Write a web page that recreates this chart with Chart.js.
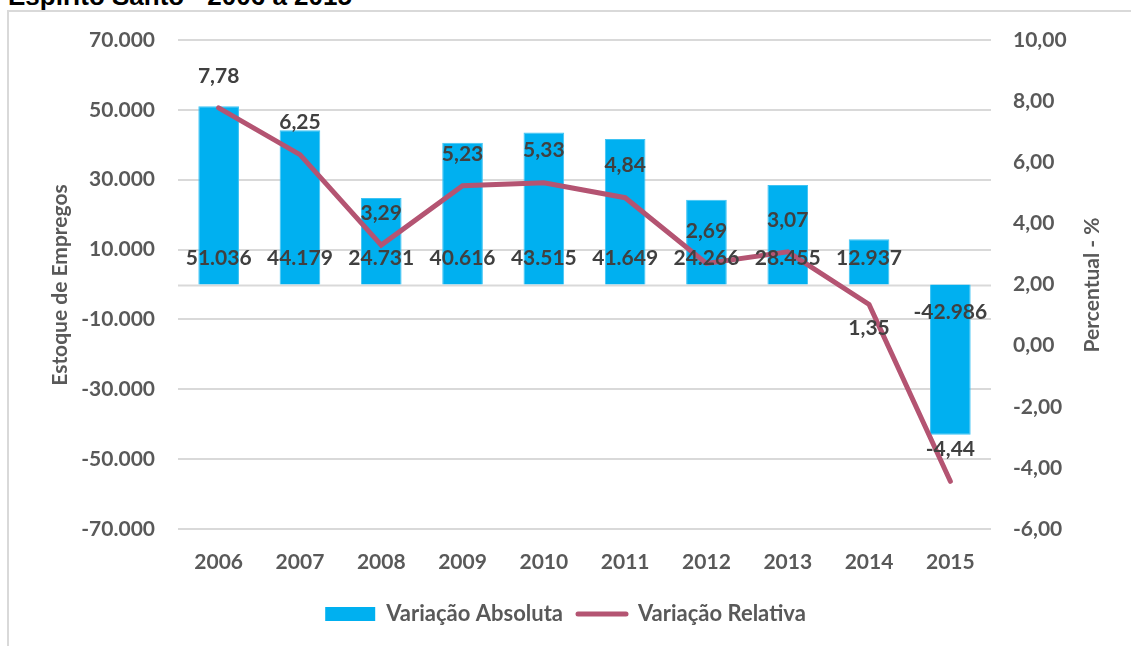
<!DOCTYPE html>
<html>
<head>
<meta charset="utf-8">
<script src="https://cdn.jsdelivr.net/npm/chart.js@4/dist/chart.umd.min.js"></script>
<style>
  html, body { margin: 0; padding: 0; background: #fff; overflow: hidden; }
  #titulo {
    position: absolute; left: 8px; top: -17px;
    font: bold 26px "Liberation Sans", Arial, sans-serif; line-height: 26px;
    color: #000; white-space: nowrap;
  }
  #moldura {
    position: absolute; left: 7px; top: 10px; width: 1200px; height: 700px;
    border: 2px solid #d9d9d9; box-sizing: border-box;
  }
  #caixa { position: absolute; left: 0; top: 0; width: 1131px; height: 646px; }
</style>
</head>
<body>
<div id="titulo">Espírito Santo - 2006 a 2015</div>
<div id="moldura"></div>
<div id="caixa"><canvas id="grafico" width="1131" height="646"></canvas></div>
<script>
const anos = ['2006', '2007', '2008', '2009', '2010', '2011', '2012', '2013', '2014', '2015'];
const variacaoAbsoluta = [51036, 44179, 24731, 40616, 43515, 41649, 24266, 28455, 12937, -42986];
const variacaoRelativa = [7.78, 6.25, 3.29, 5.23, 5.33, 4.84, 2.69, 3.07, 1.35, -4.44];
// posição do rótulo da linha: acima (-1) ou abaixo (1)
const posRotuloLinha = [-1, -1, -1, -1, -1, -1, -1, -1, 1, -1];

const FONTE = 'Lato, "Open Sans", sans-serif';
const COR_LINHA = '#b45472';
const COR_BARRA = '#00b0f0';

function milhar(v) {
  const s = Math.abs(Math.round(v)).toString().replace(/\B(?=(\d{3})+(?!\d))/g, '.');
  return (v < 0 ? '-' : '') + s;
}
function decimal(v) {
  return v.toFixed(2).replace('.', ',');
}

// símbolo da legenda para a linha (traço largo)
const tracoLegenda = document.createElement('canvas');
tracoLegenda.width = 54;
tracoLegenda.height = 8;
(() => {
  const c = tracoLegenda.getContext('2d');
  c.strokeStyle = COR_LINHA;
  c.lineWidth = 5;
  c.lineCap = 'round';
  c.beginPath();
  c.moveTo(3, 4);
  c.lineTo(51, 4);
  c.stroke();
})();

const rotulos = {
  id: 'rotulos',
  beforeDatasetsDraw(chart) {
    // linha do eixo de categorias no zero
    const { ctx, chartArea, scales } = chart;
    const y0 = Math.round(scales.y.getPixelForValue(0)) + 0.5;
    ctx.save();
    ctx.strokeStyle = '#d9d9d9';
    ctx.lineWidth = 2;
    ctx.beginPath();
    ctx.moveTo(chartArea.left, y0);
    ctx.lineTo(chartArea.right, y0);
    ctx.stroke();
    ctx.restore();
  },
  afterDatasetsDraw(chart) {
    const { ctx, scales } = chart;
    ctx.save();
    ctx.font = 'bold 21px ' + FONTE;
    ctx.fillStyle = '#404040';
    ctx.textAlign = 'center';
    ctx.textBaseline = 'middle';

    const y0 = scales.y.getPixelForValue(0);
    chart.getDatasetMeta(1).data.forEach((bar, i) => {
      const v = variacaoAbsoluta[i];
      ctx.fillText(milhar(v), bar.x, v >= 0 ? y0 - 26 : y0 + 28);
    });

    chart.getDatasetMeta(0).data.forEach((pt, i) => {
      const off = posRotuloLinha[i] < 0 ? -32 : 24;
      ctx.fillText(decimal(variacaoRelativa[i]), pt.x, pt.y + off);
    });

    // títulos dos eixos
    ctx.fillStyle = '#595959';
    ctx.translate(60, 285);
    ctx.rotate(-Math.PI / 2);
    ctx.fillText('Estoque de Empregos', 0, 0);
    ctx.restore();

    ctx.save();
    ctx.fillStyle = '#595959';
    ctx.font = 'bold 21px ' + FONTE;
    ctx.textAlign = 'center';
    ctx.textBaseline = 'middle';
    ctx.translate(1092, 285);
    ctx.rotate(-Math.PI / 2);
    ctx.fillText('Percentual - %', 0, 0);
    ctx.restore();
  }
};

const ctx = document.getElementById('grafico').getContext('2d');
const chart = new Chart(ctx, {
  type: 'bar',
  data: {
    labels: anos,
    datasets: [
      {
        type: 'line',
        label: 'Variação Relativa',
        data: variacaoRelativa,
        yAxisID: 'y1',
        borderColor: COR_LINHA,
        backgroundColor: COR_LINHA,
        borderWidth: 5,
        pointRadius: 0,
        tension: 0,
        borderCapStyle: 'round',
        order: 1
      },
      {
        type: 'bar',
        label: 'Variação Absoluta',
        data: variacaoAbsoluta,
        yAxisID: 'y',
        backgroundColor: COR_BARRA,
        borderColor: '#3ec3f3',
        borderWidth: 1,
        barPercentage: 0.5,
        categoryPercentage: 1,
        order: 2
      }
    ]
  },
  options: {
    responsive: false,
    animation: false,
    layout: { padding: { top: 40, bottom: 11, left: 0, right: 0 } },
    scales: {
      x: {
        grid: { display: false, drawTicks: false },
        border: { display: false },
        ticks: { color: '#595959', font: { family: FONTE, size: 21, weight: 'bold' }, padding: 21, maxRotation: 0 },
        afterFit(s) { s.height = 60; }
      },
      y: {
        position: 'left',
        min: -70000,
        max: 70000,
        ticks: {
          stepSize: 20000,
          color: '#595959',
          font: { family: FONTE, size: 21, weight: 'bold' },
          padding: 23,
          callback: v => milhar(v)
        },
        grid: { color: '#d9d9d9', lineWidth: 2, drawTicks: false },
        border: { display: false },
        afterFit(s) { s.width = 178; }
      },
      y1: {
        position: 'right',
        min: -6,
        max: 10,
        ticks: {
          stepSize: 2,
          color: '#595959',
          font: { family: FONTE, size: 21, weight: 'bold' },
          padding: 22,
          callback: v => decimal(v)
        },
        grid: { display: false, drawTicks: false },
        border: { display: false },
        afterFit(s) { s.width = 140; }
      }
    },
    plugins: {
      tooltip: { enabled: false },
      legend: {
        position: 'bottom',
        reverse: true,
        labels: {
          usePointStyle: true,
          pointStyleWidth: 50,
          boxHeight: 14,
          padding: 14,
          color: '#595959',
          font: { family: FONTE, size: 22, weight: 'bold' },
          generateLabels(chart) {
            const itens = Chart.defaults.plugins.legend.labels.generateLabels(chart);
            itens.forEach(it => {
              if (it.datasetIndex === 1) {
                it.pointStyle = 'rect';
                it.lineWidth = 0;
                it.strokeStyle = COR_BARRA;
              } else {
                it.pointStyle = tracoLegenda;
                it.lineWidth = 0;
              }
            });
            return itens;
          }
        }
      }
    }
  },
  plugins: [rotulos]
});
</script>
</body>
</html>
